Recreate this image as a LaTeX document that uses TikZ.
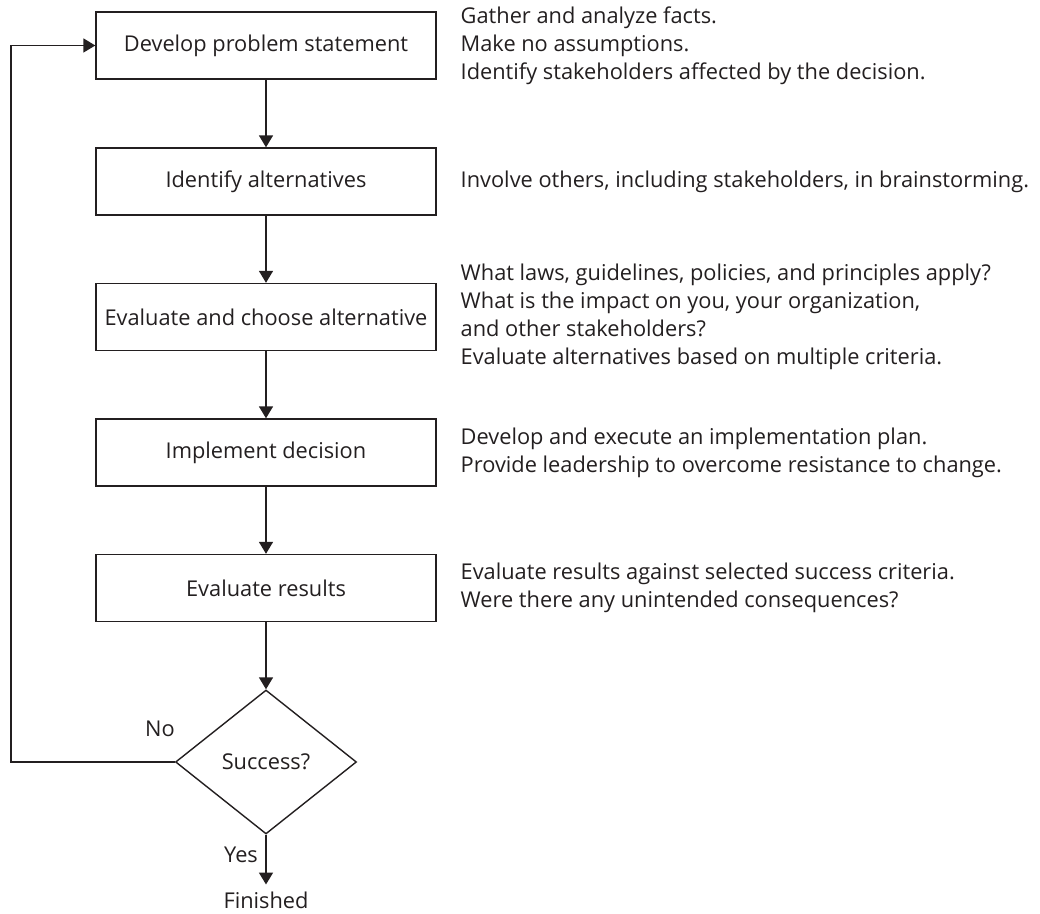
\documentclass[tikz,border=0pt]{standalone}
\usepackage{fontspec}
\setmainfont{Open Sans}
\usepackage{xcolor}
\usepackage{tikz}
\usetikzlibrary{arrows.meta,shapes.geometric,positioning}
\definecolor{ink}{RGB}{35,31,32}

\begin{document}
\begin{tikzpicture}[
    font=\fontsize{12.4}{15.9}\selectfont, color=ink, line width=0.8pt,
    >={Triangle[length=6.8pt,width=8pt]},
    stepbox/.style={draw, rectangle, minimum width=6.8cm, minimum height=1.34cm, inner sep=0pt},
    decbox/.style={draw, diamond, aspect=1.257, minimum width=3.62cm, minimum height=2.88cm, inner sep=0pt},
    note/.style={anchor=west, align=left, inner sep=0pt}]
    \useasboundingbox (0,0) rectangle (20.8,18.28);
    \node[stepbox] (dps) at (5.32,17.37) {Develop problem statement};
    \node[stepbox] (ia) at (5.32,14.65) {Identify alternatives};
    \node[stepbox] (eca) at (5.32,11.94) {Evaluate and choose alternative};
    \node[stepbox] (impl) at (5.32,9.23) {Implement decision};
    \node[stepbox] (evr) at (5.32,6.52) {Evaluate results};
    \node[decbox] (succ) at (5.32,3.04) {Success?};
    \node[anchor=north, inner sep=0pt] (fin) at (5.32,0.46) {Finished};
    \coordinate (back) at (0.22,3.04);
    \node[note] (n1) at (9.2,17.37) {Gather and analyze facts.\\Make no assumptions.\\Identify stakeholders affected by the decision.};
    \node[note] (n2) at (9.2,14.65) {Involve others, including stakeholders, in brainstorming.};
    \node[note] (n3) at (9.2,11.94) {What laws, guidelines, policies, and principles apply?\\What is the impact on you, your organization,\\and other stakeholders?\\Evaluate alternatives based on multiple criteria.};
    \node[note] (n4) at (9.2,9.23) {Develop and execute an implementation plan.\\Provide leadership to overcome resistance to change.};
    \node[note] (n5) at (9.2,6.52) {Evaluate results against selected success criteria.\\Were there any unintended consequences?};
    \node (no) at (3.2,3.70) {No};
    \node (yes) at (4.82,1.18) {Yes};
    \draw[->] (dps) -- (ia);
    \draw[->] (ia) -- (eca);
    \draw[->] (eca) -- (impl);
    \draw[->] (impl) -- (evr);
    \draw[->] (evr) -- (succ);
    \draw[->, shorten >=3.7pt] (succ) -- (fin);
    \draw[->] (succ.west) -- (back) |- (dps.west);
\end{tikzpicture}
\end{document}
